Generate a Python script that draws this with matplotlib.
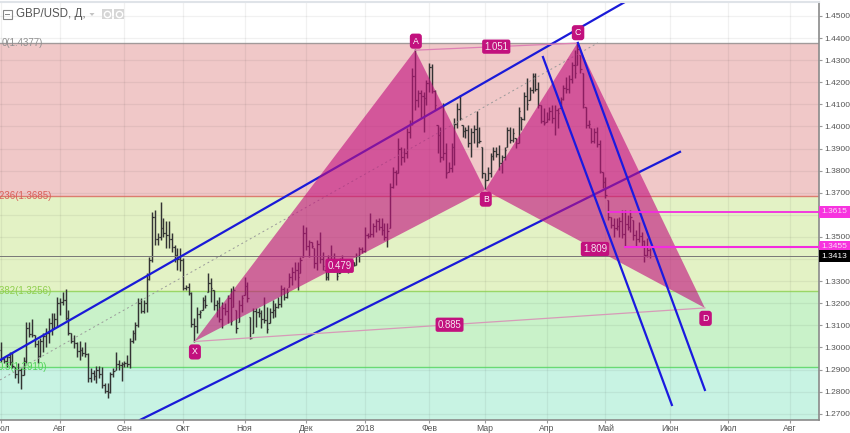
import numpy as np
import pandas as pd
import matplotlib
matplotlib.use("Agg")
import matplotlib.pyplot as plt
from matplotlib.patches import Rectangle, Polygon
from matplotlib.transforms import blended_transform_factory

plt.rcParams['font.family'] = ['Liberation Sans', 'DejaVu Sans']

# daily GBP/USD bars, first one is 2017-07-03
highs = [1.3026, 1.2958, 1.2966, 1.2981, 1.2981, 1.2913, 1.2928, 1.2906, 1.2959, 1.3117, 1.3117, 1.3128, 1.3057, 1.3034, 1.3041, 1.3064, 1.3087, 1.3132, 1.3155, 1.3155, 1.3227,
         1.3223, 1.3253, 1.3265, 1.3170, 1.3064, 1.3057, 1.3026, 1.3031, 1.3004, 1.3026, 1.2974, 1.2906, 1.2898, 1.2918, 1.2918, 1.2913, 1.2838, 1.2838, 1.2891, 1.2906, 1.2978, 1.2944, 1.2936,
         1.2941, 1.2966, 1.3042, 1.3079, 1.3117, 1.3223, 1.3223, 1.3215, 1.3336, 1.3411, 1.3615, 1.3622, 1.3517, 1.3660, 1.3585, 1.3570, 1.3570, 1.3517, 1.3464, 1.3449, 1.3449,
         1.3404, 1.3283, 1.3291, 1.3253, 1.3132, 1.3185, 1.3170, 1.3230, 1.3238, 1.3336, 1.3313, 1.3260, 1.3215, 1.3230, 1.3207, 1.3200, 1.3238, 1.3268, 1.3278, 1.3170, 1.3215, 1.3238,
         1.3321, 1.3298, 1.3140, 1.3177, 1.3177, 1.3177, 1.3170, 1.3230, 1.3185, 1.3177, 1.3215, 1.3200, 1.3230, 1.3283, 1.3275, 1.3268, 1.3336, 1.3366, 1.3388, 1.3388, 1.3411,
         1.3554, 1.3547, 1.3486, 1.3479, 1.3449, 1.3486, 1.3524, 1.3433, 1.3351, 1.3418, 1.3464, 1.3426, 1.3388, 1.3403, 1.3418, 1.3388, 1.3388, 1.3396, 1.3388, 1.3426, 1.3456, 1.3456,
         1.3547, 1.3516, 1.3610, 1.3562, 1.3580, 1.3584, 1.3584, 1.3565, 1.3562, 1.3743, 1.3818, 1.3803, 1.3946, 1.3909, 1.3901, 1.3991, 1.4029, 1.4263, 1.4349, 1.4165, 1.4165, 1.4157, 1.4210, 1.4285, 1.4282,
         1.4165, 1.4006, 1.3999, 1.4104, 1.3923, 1.3840, 1.3923, 1.4037, 1.4104, 1.4142, 1.4006, 1.3999, 1.4006, 1.3991, 1.4006, 1.4071, 1.3999,
         1.3908, 1.3788, 1.3818, 1.3878, 1.3908, 1.3908, 1.3916, 1.3871, 1.3908, 1.3999, 1.3999, 1.3991, 1.3946, 1.4089, 1.4044, 1.4157, 1.4218, 1.4180, 1.4243, 1.4243, 1.4202, 1.4097,
         1.4082, 1.4067, 1.4089, 1.4097, 1.4097, 1.4082, 1.4135, 1.4187, 1.4225, 1.4233, 1.4293, 1.4346, 1.4377, 1.4323, 1.4240, 1.4089, 1.4029, 1.3991, 1.3991, 1.3999, 1.3938, 1.3795, 1.3773,
         1.3667, 1.3592, 1.3584, 1.3584, 1.3592, 1.3622, 1.3622, 1.3599, 1.3622, 1.3577, 1.3531, 1.3569, 1.3524, 1.3486, 1.3494, 1.3448]
lows = [1.2936, 1.2929, 1.2913, 1.2921, 1.2906, 1.2861, 1.2838, 1.2811, 1.2876, 1.2928, 1.3049, 1.3049, 1.3004, 1.2931, 1.2956, 1.2981, 1.3001, 1.3019, 1.3057, 1.3087, 1.3094,
        1.3147, 1.3192, 1.3125, 1.3057, 1.3019, 1.2996, 1.2959, 1.2944, 1.2962, 1.2959, 1.2842, 1.2842, 1.2853, 1.2838, 1.2861, 1.2815, 1.2793, 1.2770, 1.2793, 1.2868, 1.2898, 1.2898, 1.2849,
        1.2910, 1.2913, 1.2906, 1.3019, 1.3034, 1.3094, 1.3158, 1.3158, 1.3162, 1.3306, 1.3389, 1.3464, 1.3464, 1.3487, 1.3502, 1.3449, 1.3449, 1.3434, 1.3389, 1.3351, 1.3344,
        1.3261, 1.3261, 1.3238, 1.3094, 1.3027, 1.3064, 1.3132, 1.3170, 1.3177, 1.3250, 1.3207, 1.3170, 1.3140, 1.3117, 1.3087, 1.3147, 1.3110, 1.3102, 1.3185, 1.3067, 1.3117, 1.3162,
        1.3238, 1.3207, 1.3037, 1.3064, 1.3094, 1.3140, 1.3087, 1.3110, 1.3064, 1.3110, 1.3132, 1.3140, 1.3177, 1.3185, 1.3215, 1.3222, 1.3275, 1.3283, 1.3305, 1.3260, 1.3335,
        1.3411, 1.3441, 1.3411, 1.3449, 1.3358, 1.3351, 1.3381, 1.3351, 1.3305, 1.3305, 1.3366, 1.3343, 1.3305, 1.3335, 1.3366, 1.3351, 1.3335, 1.3351, 1.3369, 1.3373, 1.3388, 1.3426,
        1.3433, 1.3494, 1.3501, 1.3501, 1.3524, 1.3532, 1.3509, 1.3486, 1.3456, 1.3539, 1.3720, 1.3735, 1.3788, 1.3826, 1.3841, 1.3856, 1.3946, 1.4006, 1.4074, 1.4089, 1.4036, 1.3976, 1.4097, 1.4157, 1.4150,
        1.4074, 1.3878, 1.3840, 1.3848, 1.3765, 1.3795, 1.3795, 1.3825, 1.3991, 1.4029, 1.3954, 1.3946, 1.3908, 1.3863, 1.3923, 1.3908, 1.3923,
        1.3765, 1.3717, 1.3758, 1.3773, 1.3848, 1.3863, 1.3803, 1.3788, 1.3848, 1.3908, 1.3923, 1.3931, 1.3901, 1.3923, 1.3984, 1.4029, 1.4074, 1.4119, 1.4150, 1.4160, 1.4082, 1.4014,
        1.4006, 1.4022, 1.4029, 1.4014, 1.3961, 1.3991, 1.4082, 1.4119, 1.4150, 1.4150, 1.4195, 1.4218, 1.4278, 1.4240, 1.4082, 1.3991, 1.3991, 1.3923, 1.3923, 1.3908, 1.3788, 1.3720, 1.3675,
        1.3577, 1.3539, 1.3501, 1.3531, 1.3501, 1.3494, 1.3456, 1.3531, 1.3524, 1.3486, 1.3456, 1.3478, 1.3456, 1.3388, 1.3411, 1.3403]
closes = [1.2950, 1.2940, 1.2955, 1.2935, 1.2915, 1.2880, 1.2900, 1.2875, 1.2940, 1.3090, 1.3060, 1.3055, 1.3015, 1.2960, 1.3030, 1.3050, 1.3065, 1.3110, 1.3090, 1.3130, 1.3200,
          1.3205, 1.3215, 1.3135, 1.3065, 1.3030, 1.3020, 1.2985, 1.2990, 1.2975, 1.2970, 1.2860, 1.2885, 1.2870, 1.2900, 1.2880, 1.2830, 1.2805, 1.2800, 1.2880, 1.2895, 1.2925, 1.2920, 1.2925,
          1.2930, 1.2925, 1.3030, 1.3065, 1.3100, 1.3200, 1.3165, 1.3200, 1.3310, 1.3395, 1.3590, 1.3490, 1.3500, 1.3540, 1.3520, 1.3510, 1.3490, 1.3455, 1.3420, 1.3400, 1.3395,
          1.3270, 1.3275, 1.3245, 1.3105, 1.3095, 1.3150, 1.3160, 1.3215, 1.3190, 1.3290, 1.3270, 1.3190, 1.3200, 1.3130, 1.3180, 1.3165, 1.3225, 1.3120, 1.3260, 1.3090, 1.3190, 1.3225,
          1.3280, 1.3225, 1.3045, 1.3165, 1.3160, 1.3155, 1.3130, 1.3125, 1.3085, 1.3160, 1.3170, 1.3185, 1.3195, 1.3265, 1.3230, 1.3250, 1.3320, 1.3340, 1.3350, 1.3320, 1.3395,
          1.3520, 1.3460, 1.3475, 1.3460, 1.3380, 1.3470, 1.3400, 1.3370, 1.3320, 1.3400, 1.3385, 1.3360, 1.3325, 1.3395, 1.3380, 1.3365, 1.3375, 1.3385, 1.3375, 1.3415, 1.3445, 1.3435,
          1.3510, 1.3505, 1.3515, 1.3550, 1.3570, 1.3545, 1.3530, 1.3500, 1.3525, 1.3725, 1.3795, 1.3790, 1.3900, 1.3860, 1.3880, 1.3975, 1.4010, 1.4230, 1.4120, 1.4150, 1.4140, 1.4130, 1.4195, 1.4270, 1.4160,
          1.4095, 1.3960, 1.3860, 1.3880, 1.3790, 1.3810, 1.3905, 1.4010, 1.4080, 1.4040, 1.3980, 1.3985, 1.3925, 1.3975, 1.3990, 1.3930, 1.3935,
          1.3790, 1.3760, 1.3790, 1.3865, 1.3890, 1.3875, 1.3835, 1.3860, 1.3895, 1.3985, 1.3940, 1.3970, 1.3925, 1.4070, 1.4035, 1.4140, 1.4100, 1.4165, 1.4230, 1.4170, 1.4095, 1.4025,
          1.4015, 1.4035, 1.4070, 1.4040, 1.4075, 1.4060, 1.4125, 1.4175, 1.4170, 1.4215, 1.4280, 1.4240, 1.4350, 1.4260, 1.4100, 1.4005, 1.4010, 1.3935, 1.3975, 1.3920, 1.3800, 1.3750, 1.3690,
          1.3590, 1.3555, 1.3540, 1.3550, 1.3570, 1.3515, 1.3560, 1.3545, 1.3590, 1.3510, 1.3490, 1.3505, 1.3480, 1.3420, 1.3440, 1.3413]
opens = [1.2990] + closes[:-1]

# harmonic pattern points as (bar number, price)
pat_x = (69, 1.3027)
pat_a = (148, 1.4345)
pat_b = (173, 1.3712)
pat_c = (206, 1.4377)
pat_d = (251.6, 1.3179)
pat_letters = ["X", "A", "B", "C", "D"]
ratio_ac = "1.051"
ratio_xd = "0.885"
ratio_xb = "0.479"
ratio_bd = "1.809"

# fibonacci levels
fib_prices = [1.4377, 1.3685, 1.3256, 1.2910]
fib_labels = ["0(1.4377)", "0.236(1.3685)", "0.382(1.3256)", "0.5(1.2910)"]
fib_colors = ["#8f8f8f", "#d9605a", "#8fcf4f", "#52d45a"]
fib_fills = ["#f0c8c8", "#e3f2c5", "#c9f2c9", "#c8f3e3"]

# channels
chan_up = ([-0.45, 223], [1.2943, 1.4563])
chan_low = ([49.6, 242.7], [1.2672, 1.3885])
chan_down1 = ([193.7, 239.8], [1.4314, 1.2740])
chan_down2 = ([206.2, 251.6], [1.4378, 1.2808])
mid_line = ([-0.45, 213.3], [1.2853, 1.4378])

last_price = 1.3413
level_1 = 1.3615
level_2 = 1.3455
level_1_start = 216.5
level_2_start = 222.6

month_labels = ["Июл", "Авг", "Сен", "Окт", "Ноя", "Дек", "2018", "Фев", "Мар", "Апр", "Май", "Июн", "Июл", "Авг"]
y_ticks = np.arange(1.27, 1.4501, 0.01)

W, H = 850, 433
MAGENTA = "#c2117e"


def px_box(x, y, w, h):
    # pixel box from the top left corner into figure fractions
    return (x / W, 1 - (y + h) / H), w / W, h / H


def main():
    fig = plt.figure(figsize=(8.5, 4.33), dpi=100)
    ax = fig.add_axes([0, 13 / H, 818.7 / W, 418 / H])
    ax.set_xlim(-0.45, 292.3)
    ax.set_ylim(1.2672, 1.4563)
    ax.set_axisbelow(True)

    # zones
    tops = fib_prices
    bottoms = fib_prices[1:] + [1.2672]
    for top, bot, col in zip(tops, bottoms, fib_fills):
        ax.axhspan(bot, top, color=col, lw=0, zorder=0.1)
    for p, col in zip(fib_prices, fib_colors):
        ax.axhline(p, color=col, lw=1.0, alpha=0.8, zorder=1)
    trans = blended_transform_factory(fig.transFigure, ax.transData)
    ends = [43, 52, 52, 47]
    for p, lab, col, e in zip(fib_prices, fib_labels, fib_colors, ends):
        ax.text(e / W, p, lab, transform=trans, ha="right", va="center", fontsize=7,
                color=col, zorder=6, clip_on=False)

    # month ticks from the trading calendar
    days = pd.bdate_range("2017-07-03", "2018-08-31")
    months = pd.Series(range(len(days)), index=days).groupby([days.year, days.month]).first().values
    ax.set_xticks(months)
    ax.set_xticklabels(month_labels, fontsize=6.2, color="#555555")
    ax.set_yticks(y_ticks)
    ax.set_yticklabels([f"{v:.4f}" for v in y_ticks], fontsize=6, color="#555555")
    ax.yaxis.tick_right()
    ax.tick_params(axis="x", length=2, color="#999999", pad=1)
    ax.tick_params(axis="y", length=2, color="#999999", pad=1.8)
    ax.grid(True, color="#000000", alpha=0.055, lw=0.9)
    ax.spines["left"].set_visible(False)
    ax.spines["right"].set_color("#8a8a8a")
    ax.spines["bottom"].set_color("#8a8a8a")
    ax.spines["top"].set_color("#dfe3e8")
    ax.spines["right"].set_linewidth(1.2)
    ax.spines["bottom"].set_linewidth(1.2)
    ax.spines["top"].set_linewidth(1.5)

    # price bars
    pos = np.arange(len(highs))
    op = np.clip(opens, lows, highs)
    ax.vlines(pos, lows, highs, color="#333333", lw=1.05, zorder=2)
    ax.hlines(op, pos - 0.5, pos, color="#333333", lw=0.9, zorder=2)
    ax.hlines(closes, pos, pos + 0.5, color="#333333", lw=0.9, zorder=2)

    ax.plot(*mid_line, color="#9a9a9a", lw=0.7, ls=(0, (2, 3)), zorder=2)
    ax.axhline(last_price, color="#777777", lw=0.7, zorder=2)
    ax.plot(*chan_up, color="#1a1ad8", lw=1.6, zorder=2.5)
    ax.plot(*chan_low, color="#1a1ad8", lw=1.6, zorder=2.5)

    # pattern
    ax.add_patch(Polygon([pat_x, pat_a, pat_b], closed=True, fc=MAGENTA, alpha=0.62, lw=0, zorder=3))
    ax.add_patch(Polygon([pat_b, pat_c, pat_d], closed=True, fc=MAGENTA, alpha=0.62, lw=0, zorder=3))
    ax.plot([pat_a[0], pat_c[0]], [pat_a[1], pat_c[1]], color="#dd7fb4", lw=0.9, zorder=3)
    ax.plot([pat_x[0], pat_d[0]], [pat_x[1], pat_d[1]], color="#d79ab8", lw=0.9, zorder=3)

    ax.plot(*chan_down1, color="#1a1ae0", lw=1.6, zorder=4)
    ax.plot(*chan_down2, color="#1a1ae0", lw=1.6, zorder=4)
    ax.hlines(level_1, level_1_start, 292.3, color="#f32be0", lw=1.3, zorder=4)
    ax.hlines(level_2, level_2_start, 292.3, color="#f32be0", lw=1.5, zorder=4)

    box = dict(boxstyle="round,pad=0.35", fc=MAGENTA, ec="none")
    points = [pat_x, pat_a, pat_b, pat_c, pat_d]
    offsets = [-7.5, 6.5, -6.5, 7.5, -7.5]
    for pt, letter, off in zip(points, pat_letters, offsets):
        ax.annotate(letter, pt, xytext=(0.5, off), textcoords="offset points", ha="center", va="center",
                    fontsize=6.3, color="white", bbox=box, zorder=5)
    pairs = [(pat_a, pat_c, ratio_ac), (pat_x, pat_d, ratio_xd), (pat_x, pat_b, ratio_xb), (pat_b, pat_d, ratio_bd)]
    for p0, p1, txt in pairs:
        ax.text((p0[0] + p1[0]) / 2, (p0[1] + p1[1]) / 2, txt, ha="center", va="center", fontsize=6.9,
                color="#f5e6f0", bbox=dict(boxstyle="round,pad=0.22", fc=MAGENTA, ec="none"), zorder=5)

    # price tags on the right axis
    tag = blended_transform_factory(ax.transAxes, ax.transData)
    for p, fc, tc in [(level_1, "#f733df", "#fbd9f6"), (level_2, "#f733df", "#fbd9f6"), (last_price, "#000000", "#ffffff")]:
        ax.add_patch(Rectangle((1.0, p - 0.0027), 32 / 818.7, 0.0054, transform=tag, fc=fc, ec="none",
                               clip_on=False, zorder=6))
        ax.text(1.0 + 16 / 818.7, p, f"{p:.4f}", transform=tag, ha="center", va="center", fontsize=6,
                color=tc, clip_on=False, zorder=7)

    # header
    fig.text(16.5 / W, 1 - 14.5 / H, "GBP/USD, Д,", fontsize=8.3, color="#555555", va="center")
    (x0, y0), w, h = px_box(3, 10, 9, 9)
    fig.add_artist(Rectangle((x0, y0), w, h, fc="none", ec="#888888", lw=0.8, transform=fig.transFigure))
    (x0, y0), w, h = px_box(5, 14.2, 5, 0.8)
    fig.add_artist(Rectangle((x0, y0), w, h, fc="#888888", ec="none", transform=fig.transFigure))
    fig.add_artist(Polygon([(89.5 / W, 1 - 13 / H), (94.5 / W, 1 - 13 / H), (92 / W, 1 - 16 / H)], fc="#c4c4c4",
                           ec="none", transform=fig.transFigure))
    for bx in [102, 114]:
        (x0, y0), w, h = px_box(bx, 9, 10, 10)
        fig.add_artist(Rectangle((x0, y0), w, h, fc="#d6d6d6", ec="none", transform=fig.transFigure))
        cx, cy = (bx + 5), 14
        fig.add_artist(plt.Line2D([cx / W], [1 - cy / H], marker="o", ms=4.5, mfc="none", mec="white", mew=1,
                                  transform=fig.transFigure))

    fig.savefig("out.png", dpi=100, facecolor="white")


if __name__ == "__main__":
    main()
